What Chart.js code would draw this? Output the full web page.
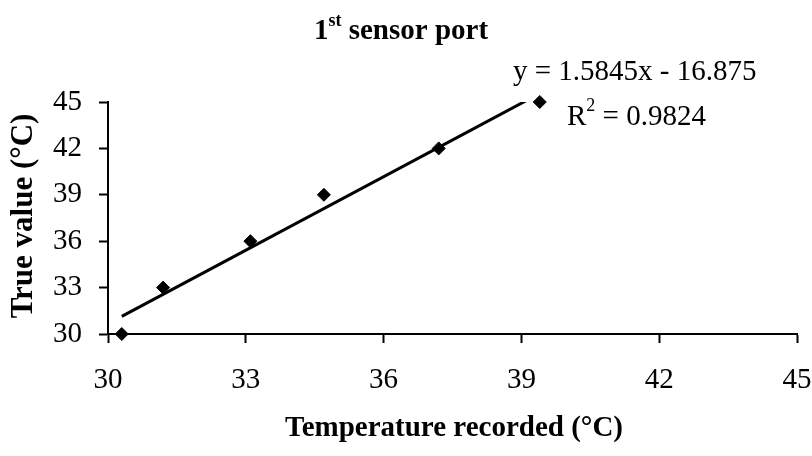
<!DOCTYPE html>
<html>
<head>
<meta charset="utf-8">
<script src="https://cdn.jsdelivr.net/npm/chart.js@4.4.0/dist/chart.umd.min.js"></script>
<style>
  html, body { margin: 0; padding: 0; background: #fff; }
  #wrap { width: 812px; height: 456px; }
</style>
</head>
<body>
<div id="wrap"><canvas id="sensorChart" width="812" height="456"></canvas></div>
<script>
// values
const recordedTemp = [30.3, 31.2, 33.1, 34.7, 37.2, 39.4];
const trueValue = [30, 33, 36, 39, 42, 45];
const xTicks = [30, 33, 36, 39, 42, 45];
const yTicks = [30, 33, 36, 39, 42, 45];

// linear trendline as printed on the chart
const fitSlope = 1.5845;
const fitIntercept = -16.875;
const fitR2 = 0.9824;

const SERIF = "'Liberation Serif', 'Times New Roman', serif";

const points = recordedTemp.map((x, i) => ({ x: x, y: trueValue[i] }));
const xMin = Math.min(...recordedTemp);
const xMax = Math.max(...recordedTemp);
const trendPoints = [xMin, xMax].map(x => ({ x: x, y: fitSlope * x + fitIntercept }));

// ============================
// text drawn on top (title, equation, axis titles)
// ============================
const figureText = {
  id: 'figureText',
  afterDraw(chart) {
    const { ctx } = chart;
    ctx.save();
    ctx.fillStyle = '#000';
    ctx.textBaseline = 'alphabetic';
    ctx.textAlign = 'left';

    // title: 1st sensor port
    const big = 'bold 29px ' + SERIF;
    const sup = 'bold 18px ' + SERIF;
    ctx.font = big;
    const w1 = ctx.measureText('1').width;
    const w3 = ctx.measureText(' sensor port').width;
    ctx.font = sup;
    const w2 = ctx.measureText('st').width;
    let tx = 401 - (w1 + w2 + w3) / 2;
    ctx.font = big;
    ctx.fillText('1', tx, 39);
    ctx.font = sup;
    ctx.fillText('st', tx + w1, 26);
    ctx.font = big;
    ctx.fillText(' sensor port', tx + w1 + w2, 39);

    // trendline equation and R squared
    ctx.font = '29px ' + SERIF;
    const sign = fitIntercept < 0 ? ' - ' : ' + ';
    ctx.fillText('y = ' + fitSlope + 'x' + sign + Math.abs(fitIntercept), 513, 80);
    const rw = ctx.measureText('R').width;
    ctx.fillText('R', 567, 125);
    ctx.font = '18px ' + SERIF;
    const sw = ctx.measureText('2').width;
    ctx.fillText('2', 567 + rw, 111);
    ctx.font = '29px ' + SERIF;
    ctx.fillText(' = ' + fitR2, 567 + rw + sw, 125);

    // x axis title
    ctx.font = 'bold 29px ' + SERIF;
    ctx.textAlign = 'center';
    ctx.fillText('Temperature recorded (°C)', 454, 436);

    // y axis title
    ctx.font = 'bold 31px ' + SERIF;
    ctx.translate(24, 216);
    ctx.rotate(-Math.PI / 2);
    ctx.textBaseline = 'middle';
    ctx.fillText('True value (°C)', 0, 0);
    ctx.restore();
  }
};

const axisLine = { color: '#000', width: 2 };
const tickGrid = {
  drawOnChartArea: false,
  drawTicks: true,
  tickLength: 9,
  tickWidth: 2,
  tickColor: '#000'
};

new Chart(document.getElementById('sensorChart'), {
  type: 'scatter',
  data: {
    datasets: [
      {
        label: 'Readings',
        data: points,
        pointStyle: 'rectRot',
        pointRadius: 6.5,
        pointHoverRadius: 6.5,
        backgroundColor: '#000',
        borderColor: '#000',
        borderWidth: 1,
        clip: false
      },
      {
        label: 'Linear fit',
        type: 'line',
        data: trendPoints,
        borderColor: '#000',
        borderWidth: 3,
        pointRadius: 0,
        fill: false,
        tension: 0
      }
    ]
  },
  options: {
    responsive: false,
    animation: false,
    events: [],
    layout: { padding: { top: 102, right: 15, bottom: 0, left: 0 } },
    plugins: {
      legend: { display: false },
      title: { display: false },
      tooltip: { enabled: false }
    },
    scales: {
      x: {
        type: 'linear',
        min: 30,
        max: 45,
        afterBuildTicks: s => { s.ticks = xTicks.map(v => ({ value: v })); },
        afterFit: s => {
          s.height = 122;
          // let the last label run off the edge like the original
          s.paddingLeft = 0;
          s.paddingRight = 0;
        },
        border: axisLine,
        grid: tickGrid,
        ticks: {
          color: '#000',
          padding: 20,
          maxRotation: 0,
          font: { family: SERIF, size: 29 }
        }
      },
      y: {
        type: 'linear',
        min: 30,
        max: 45,
        afterBuildTicks: s => { s.ticks = yTicks.map(v => ({ value: v })); },
        afterFit: s => {
          s.width = 108;
          s.paddingTop = 0;
          s.paddingBottom = 0;
        },
        border: axisLine,
        grid: tickGrid,
        ticks: {
          color: '#000',
          padding: 17,
          font: { family: SERIF, size: 29 }
        }
      }
    }
  },
  plugins: [figureText]
});
</script>
</body>
</html>
